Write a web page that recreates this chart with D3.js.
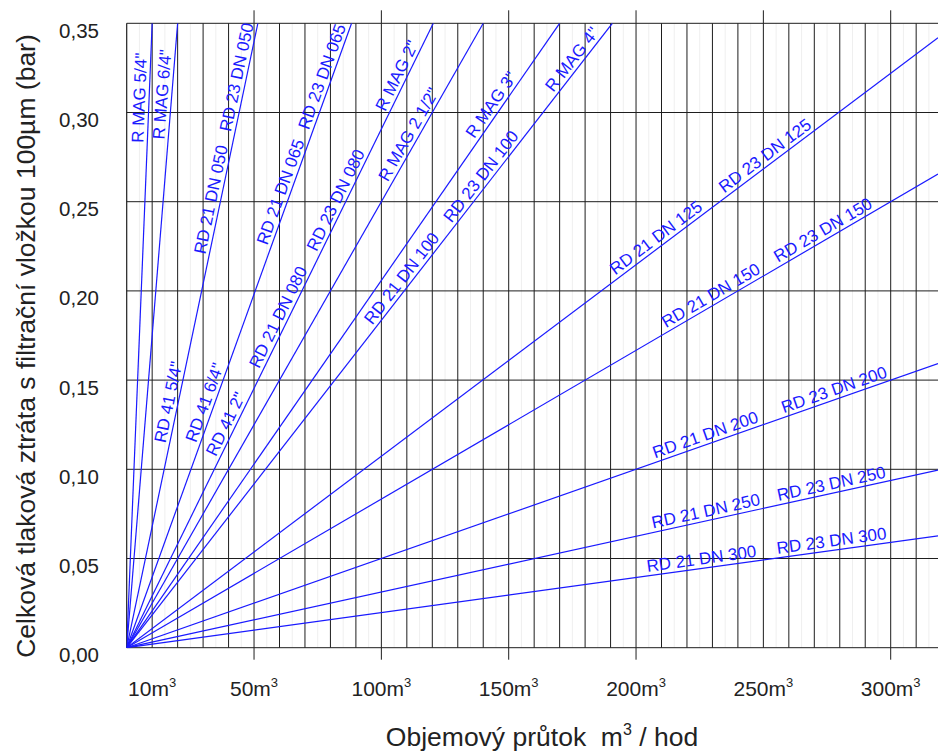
<!DOCTYPE html>
<html>
<head>
<meta charset="utf-8">
<script src="https://cdnjs.cloudflare.com/ajax/libs/d3/7.8.5/d3.min.js"></script>
<style>
  body { margin: 0; background: #fff; }
  svg { display: block; font-family: "Liberation Sans", Arial, sans-serif; }
</style>
</head>
<body>
<div id="chart"></div>
<script>
// every line starts in 0,0 and goes through this point (m3/hod, bar)
var curveQ  = [10, 20, 51.5, 88.3, 120.4, 140, 170, 190.7, 300, 300, 300, 300, 300];
var curveDp = [0.35, 0.35, 0.35, 0.35, 0.35, 0.35, 0.35, 0.35, 0.322, 0.25, 0.15, 0.0937, 0.059];

// labels sit on top of a line, labelQ is the flow at the middle of the text
var labelText = ['R MAG 5/4"', 'R MAG 6/4"', 'RD 23 DN 050', 'RD 21 DN 050', 'RD 41 5/4"',
                 'RD 23 DN 065', 'RD 21 DN 065', 'RD 41 6/4"',
                 'R MAG 2"', 'RD 23 DN 080', 'RD 21 DN 080', 'RD 41 2"',
                 'R MAG 2 1/2"', 'R MAG 3"',
                 'R MAG 4"', 'RD 23 DN 100', 'RD 21 DN 100',
                 'RD 23 DN 125', 'RD 21 DN 125', 'RD 23 DN 150', 'RD 21 DN 150',
                 'RD 23 DN 200', 'RD 21 DN 200', 'RD 23 DN 250', 'RD 21 DN 250',
                 'RD 23 DN 300', 'RD 21 DN 300'];
var labelCurve = [0, 1, 2, 2, 2, 3, 3, 3, 4, 4, 4, 4, 5, 6, 7, 7, 7, 8, 8, 9, 9, 10, 10, 11, 11, 12, 12];
var labelQ = [8.8, 17.7, 46.9, 36.8, 20.1, 80.3, 64, 34.2, 109.5, 85.5, 62.9, 42.3, 114, 146.3,
              177.9, 142.1, 111, 252.9, 210.1, 275.3, 231.3, 279, 228.5, 277.5, 228.2, 277.3, 226.2];

var yTicks = [0, 0.05, 0.10, 0.15, 0.20, 0.25, 0.30, 0.35];
var xLabelTicks = [10, 50, 100, 150, 200, 250, 300];
var xTicksBelow = [50, 100, 150, 200, 300];
var xTicksAbove = [50, 100, 150, 200, 250, 300];

var W = 938, H = 752;
var blue = "#1a1aff", grid = "#1e1e1e", ink = "#222";

var svg = d3.select("#chart").append("svg")
  .attr("width", W)
  .attr("height", H);

var x = d3.scaleLinear().domain([0, 300]).range([126.7, 890.7]);
var y = d3.scaleLinear().domain([0, 0.35]).range([647.7, 23.3]);
var xMax = x.invert(W);

svg.append("clipPath").attr("id", "plot-clip")
  .append("rect")
  .attr("x", x(0)).attr("y", y(0.35))
  .attr("width", W - x(0)).attr("height", y(0) - y(0.35));

// faint half steps
svg.append("g").selectAll("line")
  .data(d3.range(5, xMax, 10))
  .enter().append("line")
  .attr("x1", d => x(d)).attr("x2", d => x(d))
  .attr("y1", y(0.35)).attr("y2", y(0))
  .attr("stroke", "#efefef").attr("stroke-width", 1);

// vertical grid every 10 m3
svg.append("g").selectAll("line")
  .data(d3.range(10, xMax, 10))
  .enter().append("line")
  .attr("x1", d => x(d)).attr("x2", d => x(d))
  .attr("y1", y(0.35)).attr("y2", y(0))
  .attr("stroke", grid).attr("stroke-width", 1);

svg.append("g").selectAll("line")
  .data(xTicksAbove)
  .enter().append("line")
  .attr("x1", d => x(d)).attr("x2", d => x(d))
  .attr("y1", y(0.35) - 13).attr("y2", y(0.35))
  .attr("stroke", grid);

svg.append("g").selectAll("line")
  .data(xTicksBelow)
  .enter().append("line")
  .attr("x1", d => x(d)).attr("x2", d => x(d))
  .attr("y1", y(0)).attr("y2", y(0) + 12)
  .attr("stroke", grid);

svg.append("g").selectAll("line")
  .data(yTicks)
  .enter().append("line")
  .attr("x1", x(0)).attr("x2", W)
  .attr("y1", d => y(d)).attr("y2", d => y(d))
  .attr("stroke", grid).attr("stroke-width", 1);

svg.append("line")
  .attr("x1", x(0)).attr("x2", x(0))
  .attr("y1", y(0.35)).attr("y2", y(0))
  .attr("stroke", grid).attr("stroke-width", 1.2);

// the lines
var line = d3.line().x(d => x(d[0])).y(d => y(d[1]));

function curveEnd(i) {
  var t = Math.min(xMax / curveQ[i], 0.35 / curveDp[i]);
  return [curveQ[i] * t, curveDp[i] * t];
}

svg.append("g")
  .attr("clip-path", "url(#plot-clip)")
  .selectAll("path")
  .data(curveQ.map((q, i) => i))
  .enter().append("path")
  .attr("d", i => line([[0, 0], curveEnd(i)]))
  .attr("fill", "none")
  .attr("stroke", blue)
  .attr("stroke-width", 1.2);

function curveAngle(i) {
  var k = curveDp[i] / curveQ[i];
  return Math.atan2(y(k) - y(0), x(1) - x(0)) * 180 / Math.PI;
}

svg.append("g").selectAll("text")
  .data(labelText.map((t, i) => i))
  .enter().append("text")
  .attr("transform", i => {
    var c = labelCurve[i], q = labelQ[i];
    var dp = curveDp[c] / curveQ[c] * q;
    return "translate(" + x(q) + "," + y(dp) + ") rotate(" + curveAngle(c) + ")";
  })
  .attr("y", -4)
  .attr("text-anchor", "middle")
  .attr("font-size", 17)
  .attr("fill", blue)
  .text(i => labelText[i]);

// axis labels
svg.append("g").selectAll("text")
  .data(yTicks)
  .enter().append("text")
  .attr("x", 99)
  .attr("y", d => y(d) + 14.5)
  .attr("text-anchor", "end")
  .attr("font-size", 20.5)
  .attr("fill", ink)
  .text(d => d3.format(".2f")(d).replace(".", ","));

var xl = svg.append("g").selectAll("text")
  .data(xLabelTicks)
  .enter().append("text")
  .attr("x", d => x(d))
  .attr("y", 696)
  .attr("text-anchor", "middle")
  .attr("font-size", 21)
  .attr("fill", ink);
xl.append("tspan").text(d => d + "m");
xl.append("tspan").attr("font-size", 13).attr("dy", -9).text("3");

var xt = svg.append("text")
  .attr("x", 542)
  .attr("y", 746)
  .attr("text-anchor", "middle")
  .attr("font-size", 26.5)
  .attr("fill", ink)
  .style("white-space", "pre");
xt.append("tspan").text("Objemový průtok  m");
xt.append("tspan").attr("font-size", 16).attr("dy", -11).text("3");
xt.append("tspan").attr("dy", 11).text(" / hod");

svg.append("text")
  .attr("transform", "translate(35,346) rotate(-90)")
  .attr("text-anchor", "middle")
  .attr("font-size", 26.5)
  .attr("fill", ink)
  .text("Celková tlaková ztráta s filtrační vložkou 100µm (bar)");
</script>
</body>
</html>
